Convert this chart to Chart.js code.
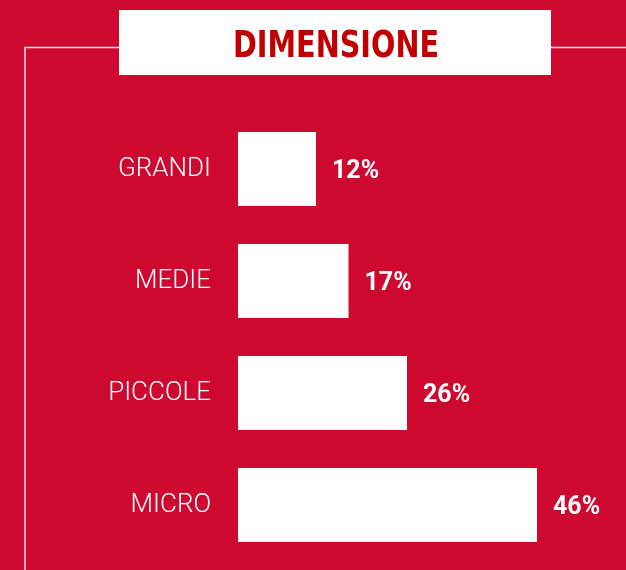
<!DOCTYPE html>
<html>
<head>
<meta charset="utf-8">
<script src="https://cdn.jsdelivr.net/npm/chart.js@4"></script>
<style>
html,body{margin:0;padding:0;background:#CE0930;}
#wrap{width:626px;height:570px;position:relative;}
</style>
</head>
<body>
<div id="wrap"><canvas id="c" width="626" height="570"></canvas></div>
<script>
const title = "DIMENSIONE";
const categories = ["GRANDI", "MEDIE", "PICCOLE", "MICRO"];
const values = [12, 17, 26, 46];
const valueLabels = ["12%", "17%", "26%", "46%"];

const BG = "#CE0930";
const TITLE_RED = "#C00000";

const framePlugin = {
  id: "frame",
  beforeDraw(chart) {
    const ctx = chart.ctx;
    ctx.save();
    ctx.fillStyle = BG;
    ctx.fillRect(0, 0, chart.width, chart.height);
    ctx.strokeStyle = "rgba(255,255,255,0.85)";
    ctx.lineWidth = 1.5;
    ctx.beginPath();
    ctx.moveTo(25, chart.height);
    ctx.lineTo(25, 47.5);
    ctx.lineTo(120, 47.5);
    ctx.moveTo(550, 47.5);
    ctx.lineTo(chart.width, 47.5);
    ctx.stroke();
    ctx.fillStyle = "#FFFFFF";
    ctx.fillRect(119, 10, 432, 65);
    ctx.fillStyle = TITLE_RED;
    ctx.font = 'bold 37px "Liberation Sans Narrow", "DejaVu Sans Condensed", "Roboto", sans-serif';
    ctx.textBaseline = "alphabetic";
    ctx.textAlign = "left";
    const w = ctx.measureText(title).width;
    const targetW = 206;
    ctx.translate(233, 57);
    ctx.scale(targetW / w, 1);
    ctx.fillText(title, 0, 0);
    ctx.restore();
  },
  afterDatasetsDraw(chart) {
    const ctx = chart.ctx;
    const meta = chart.getDatasetMeta(0);
    ctx.save();
    ctx.fillStyle = "#FFFFFF";
    ctx.font = 'bold 25px "Roboto", "Open Sans", sans-serif';
    ctx.textAlign = "left";
    ctx.textBaseline = "middle";
    meta.data.forEach((bar, i) => {
      ctx.fillText(valueLabels[i], bar.x + 16, bar.y + 3);
    });
    ctx.restore();
  }
};

new Chart(document.getElementById("c"), {
  type: "bar",
  data: {
    labels: categories,
    datasets: [{
      data: values,
      backgroundColor: "#FFFFFF",
      borderWidth: 0,
      categoryPercentage: 1.0,
      barPercentage: 0.66
    }]
  },
  options: {
    indexAxis: "y",
    responsive: false,
    animation: false,
    events: [],
    layout: { padding: { left: 0, right: 30.5, top: 113, bottom: 9 } },
    plugins: { legend: { display: false }, tooltip: { enabled: false }, title: { display: false } },
    scales: {
      x: {
        display: false,
        min: 0,
        max: 55
      },
      y: {
        grid: { display: false, drawTicks: false },
        border: { display: false },
        ticks: {
          color: "#FFFFFF",
          padding: 27,
          font: { family: '"Roboto", "Open Sans", sans-serif', size: 26, weight: 300 }
        },
        afterFit(scale) {
          scale.width = 238;
          scale.paddingTop = 0;
          scale.paddingBottom = 0;
        }
      }
    }
  },
  plugins: [framePlugin]
});
</script>
</body>
</html>
